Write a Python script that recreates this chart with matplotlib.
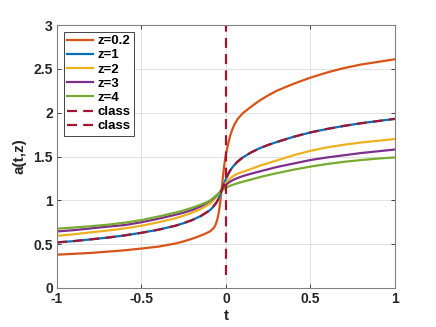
import matplotlib
matplotlib.use("Agg")
import matplotlib.pyplot as plt

# values (denser near t=0 where curves bend)
t = [-1, -0.9, -0.8, -0.7, -0.6, -0.5, -0.4, -0.3, -0.25, -0.2, -0.15, -0.1,
     -0.085, -0.07, -0.06, -0.05, -0.042, -0.035, -0.025, -0.015, -0.008,
     -0.004, 0, 0.008, 0.015, 0.025, 0.035, 0.05, 0.07, 0.1, 0.15, 0.2, 0.25,
     0.3, 0.4, 0.5, 0.6, 0.7, 0.8, 0.9, 1]

a_z02 = [0.38, 0.39, 0.40, 0.415, 0.43, 0.45, 0.472, 0.507, 0.532, 0.562,
         0.597, 0.64, 0.66, 0.69, 0.728, 0.79, 0.865, 0.96, 1.13, 1.32, 1.43,
         1.48, 1.525, 1.60, 1.66, 1.735, 1.795, 1.865, 1.93, 1.995, 2.07, 2.14,
         2.198, 2.25, 2.33, 2.40, 2.46, 2.51, 2.55, 2.58, 2.61]
a_z1 = [0.52, 0.535, 0.555, 0.575, 0.60, 0.63, 0.665, 0.71, 0.74, 0.775, 0.82,
        0.88, 0.905, 0.94, 0.965, 0.995, 1.03, 1.065, 1.118, 1.17, 1.206, 1.226,
        1.245, 1.28, 1.307, 1.34, 1.368, 1.404, 1.444, 1.49, 1.548, 1.595,
        1.632, 1.665, 1.725, 1.775, 1.815, 1.85, 1.88, 1.905, 1.93]
a_z2 = [0.595, 0.613, 0.635, 0.655, 0.68, 0.71, 0.75, 0.795, 0.825, 0.86, 0.90,
        0.955, 0.978, 1.01, 1.032, 1.055, 1.076, 1.095, 1.125, 1.16, 1.18, 1.19,
        1.20, 1.218, 1.232, 1.25, 1.265, 1.285, 1.305, 1.325, 1.36, 1.395,
        1.425, 1.455, 1.515, 1.565, 1.605, 1.635, 1.66, 1.68, 1.70]
a_z3 = [0.645, 0.66, 0.68, 0.70, 0.718, 0.75, 0.79, 0.835, 0.86, 0.89, 0.93,
        0.985, 1.007, 1.03, 1.048, 1.065, 1.08, 1.095, 1.12, 1.145, 1.16, 1.168,
        1.175, 1.19, 1.20, 1.213, 1.225, 1.24, 1.256, 1.277, 1.305, 1.33,
        1.355, 1.38, 1.42, 1.46, 1.49, 1.515, 1.54, 1.56, 1.58]
a_z4 = [0.677, 0.69, 0.705, 0.722, 0.745, 0.775, 0.815, 0.86, 0.885, 0.915,
        0.95, 0.99, 1.012, 1.035, 1.052, 1.068, 1.082, 1.094, 1.11, 1.124,
        1.133, 1.138, 1.142, 1.151, 1.158, 1.166, 1.174, 1.184, 1.196, 1.213,
        1.238, 1.265, 1.288, 1.31, 1.35, 1.385, 1.415, 1.44, 1.46, 1.477, 1.49]

# classical solution: smooth part equals z=1, jump part is vertical at t=0
class_t = [0, 0]
class_a = [0.15, 3.0]

labels = ["z=0.2", "z=1", "z=2", "z=3", "z=4"]
colors = ["#D95319", "#0072BD", "#EDB120", "#7E2F8E", "#77AC30"]
class_color = "#A2142F"

plt.rcParams["font.family"] = ["Liberation Sans", "DejaVu Sans"]
plt.rcParams["font.weight"] = "bold"

fig = plt.figure(figsize=(4.36, 3.27), dpi=100)
ax = fig.add_axes([0.1307, 0.1193, 0.775, 0.804])

for series, lab, col in zip([a_z02, a_z1, a_z2, a_z3, a_z4], labels, colors):
    ax.plot(t, series, color=col, linewidth=1.6, label=lab)

ax.plot(t, a_z1, color=class_color, linewidth=1.6, dashes=(4.5, 2.8), label="class")
ax.plot(class_t, class_a, color=class_color, linewidth=1.6, dashes=(4.5, 2.8),
        label="class")

ax.set_xlim(-1, 1)
ax.set_ylim(0, 3)
ax.set_xticks([-1, -0.5, 0, 0.5, 1])
ax.set_xticklabels(["-1", "-0.5", "0", "0.5", "1"])
ax.set_yticks([0, 0.5, 1, 1.5, 2, 2.5, 3])
ax.set_yticklabels(["0", "0.5", "1", "1.5", "2", "2.5", "3"])
ax.grid(True, color="#dddddd", linewidth=0.6)
ax.set_axisbelow(True)
ax.tick_params(direction="in", length=3, width=0.6, colors="#262626",
               labelsize=10, top=True, right=True)
ax.tick_params(axis="x", pad=3)
ax.tick_params(axis="y", pad=3)
for sp in ax.spines.values():
    sp.set_color("#808080")
    sp.set_linewidth(0.8)

ax.set_xlabel("t", fontsize=11, fontweight="bold", color="#262626", labelpad=2)
ax.set_ylabel("a(t,z)", fontsize=11, fontweight="bold", color="#262626", labelpad=5)

leg = ax.legend(loc="upper left", bbox_to_anchor=(0.02, 0.975), fontsize=9.5,
                handlelength=2.0, handletextpad=0.3, labelspacing=0.15,
                borderpad=0.25, borderaxespad=0.0, fancybox=False, framealpha=1)
leg.get_frame().set_edgecolor("#262626")
leg.get_frame().set_linewidth(0.6)
for txt in leg.get_texts():
    txt.set_fontweight("bold")

fig.savefig("out.png", dpi=100)
